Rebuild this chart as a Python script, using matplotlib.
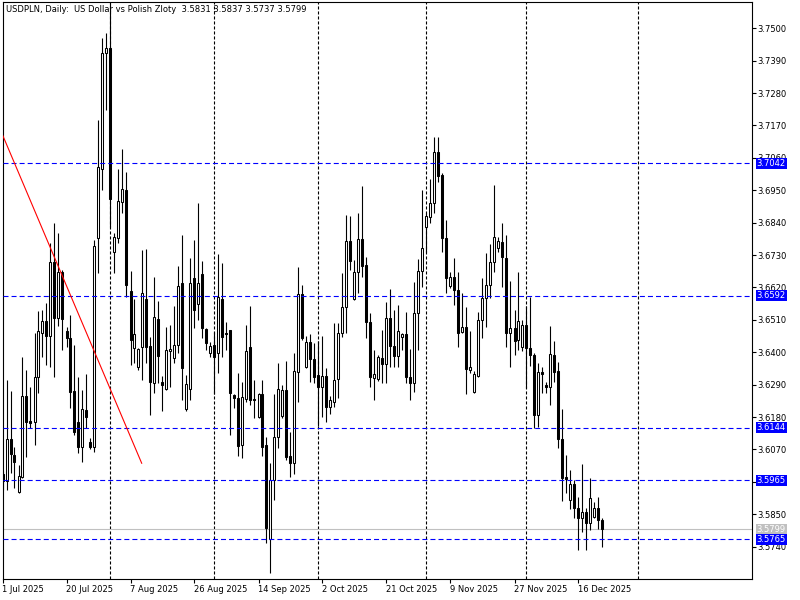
import matplotlib
matplotlib.use("Agg")
import matplotlib.pyplot as plt
import matplotlib.transforms as mtransforms
import numpy as np

plt.rcParams['lines.scale_dashes'] = False
plt.rcParams['font.family'] = ['DejaVu Sans']

# ---- data (daily bars, Sun-Fri sessions, 1 Jul 2025 .. 23 Dec 2025) ----
opens = [3.5986, 3.5963, 3.6105, 3.6051, 3.5925, 3.5976, 3.6252, 3.6167, 3.6163, 3.6316,
         3.6466, 3.6506, 3.6455, 3.6706, 3.6516, 3.6672, 3.6472, 3.6448, 3.6269, 3.6163,
         3.6078, 3.6204, 3.6095, 3.6078, 3.6788, 3.7022, 3.7416, 3.7433, 3.6740, 3.6788,
         3.6910, 3.6951, 3.6608, 3.6414, 3.6350, 3.6418, 3.6581, 3.6421, 3.6296, 3.6513,
         3.6299, 3.6275, 3.6404, 3.6380, 3.6425, 3.6635, 3.6207, 3.6275, 3.6652, 3.6564,
         3.6666, 3.6479, 3.6397, 3.6425, 3.6397, 3.6581, 3.6466, 3.6475, 3.6255, 3.6245,
         3.6085, 3.6241, 3.6418, 3.6241, 3.6180, 3.6258, 3.6085, 3.5766, 3.5966, 3.6112,
         3.6184, 3.6272, 3.6048, 3.6024, 3.6333, 3.6598, 3.6350, 3.6435, 3.6377, 3.6323,
         3.6282, 3.6319, 3.6214, 3.6231, 3.6309, 3.6465, 3.6554, 3.6778, 3.6581, 3.6672,
         3.6784, 3.6696, 3.6503, 3.6313, 3.6309, 3.6380, 3.6360, 3.6516, 3.6421, 3.6387,
         3.6452, 3.6462, 3.6316, 3.6296, 3.6533, 3.6676, 3.6825, 3.6859, 3.6907, 3.7080,
         3.7002, 3.6788, 3.6625, 3.6656, 3.6611, 3.6469, 3.6486, 3.6340, 3.6265, 3.6319,
         3.6509, 3.6584, 3.6628, 3.6706, 3.6754, 3.6774, 3.6720, 3.6465, 3.6482, 3.6441,
         3.6418, 3.6493, 3.6414, 3.6391, 3.6187, 3.6333, 3.6289, 3.6282, 3.6391, 3.6336,
         3.6105, 3.5976, 3.5898, 3.5953, 3.5871, 3.5837, 3.5857, 3.5820, 3.5840, 3.5871,
         3.5831]
highs = [3.5997, 3.6306, 3.6269, 3.6078, 3.6017, 3.6384, 3.6340, 3.6282, 3.6466, 3.6540,
         3.6543, 3.6567, 3.6771, 3.6839, 3.6805, 3.6679, 3.6486, 3.6526, 3.6425, 3.6316,
         3.6272, 3.6326, 3.6109, 3.6781, 3.7189, 3.7467, 3.7484, 3.7585, 3.6805, 3.7022,
         3.7090, 3.7012, 3.6676, 3.6581, 3.6414, 3.6747, 3.6751, 3.6452, 3.6656, 3.6574,
         3.6319, 3.6486, 3.6492, 3.6557, 3.6693, 3.6798, 3.6323, 3.6720, 3.6781, 3.6907,
         3.6710, 3.6482, 3.6435, 3.6469, 3.6734, 3.6703, 3.6503, 3.6475, 3.6258, 3.6330,
         3.6299, 3.6492, 3.6557, 3.6306, 3.6262, 3.6306, 3.6112, 3.6024, 3.6258, 3.6363,
         3.6289, 3.6370, 3.6129, 3.6397, 3.6690, 3.6628, 3.6455, 3.6462, 3.6431, 3.6438,
         3.6455, 3.6346, 3.6252, 3.6499, 3.6499, 3.6669, 3.6866, 3.6863, 3.6713, 3.6873,
         3.6964, 3.6723, 3.6533, 3.6407, 3.6391, 3.6475, 3.6571, 3.6615, 3.6543, 3.6560,
         3.6465, 3.6537, 3.6411, 3.6639, 3.6717, 3.6951, 3.6873, 3.6988, 3.7131, 3.7131,
         3.7009, 3.6849, 3.6672, 3.6720, 3.6672, 3.6601, 3.6554, 3.6472, 3.6336, 3.6537,
         3.6652, 3.6737, 3.6768, 3.6968, 3.6791, 3.6839, 3.6798, 3.6642, 3.6543, 3.6672,
         3.6509, 3.6557, 3.6588, 3.6397, 3.6363, 3.6350, 3.6299, 3.6489, 3.6438, 3.6367,
         3.6207, 3.6051, 3.6000, 3.5966, 3.5908, 3.6020, 3.5871, 3.5973, 3.5891, 3.5908,
         3.5837]
lows = [3.5932, 3.5932, 3.5990, 3.5939, 3.5922, 3.5973, 3.6044, 3.6143, 3.6085, 3.6262,
        3.6384, 3.6357, 3.6350, 3.6316, 3.6489, 3.6407, 3.6418, 3.6211, 3.6119, 3.6058,
        3.6027, 3.6143, 3.6071, 3.6061, 3.6669, 3.6951, 3.7222, 3.6825, 3.6669, 3.6771,
        3.6873, 3.6588, 3.6357, 3.6363, 3.6340, 3.6306, 3.6363, 3.6187, 3.6262, 3.6296,
        3.6200, 3.6272, 3.6282, 3.6363, 3.6397, 3.6238, 3.6200, 3.6238, 3.6482, 3.6509,
        3.6448, 3.6407, 3.6384, 3.6258, 3.6330, 3.6384, 3.6407, 3.6119, 3.6211, 3.6048,
        3.6041, 3.6231, 3.6221, 3.6177, 3.6177, 3.6048, 3.5752, 3.5650, 3.5898, 3.6075,
        3.6177, 3.6034, 3.5976, 3.5986, 3.6231, 3.6441, 3.6347, 3.6299, 3.6296, 3.6150,
        3.6180, 3.6163, 3.6190, 3.6214, 3.6245, 3.6452, 3.6465, 3.6679, 3.6577, 3.6601,
        3.6656, 3.6448, 3.6282, 3.6238, 3.6302, 3.6296, 3.6296, 3.6350, 3.6350, 3.6350,
        3.6407, 3.6296, 3.6238, 3.6265, 3.6407, 3.6622, 3.6740, 3.6839, 3.6873, 3.6978,
        3.6740, 3.6601, 3.6618, 3.6560, 3.6418, 3.6465, 3.6258, 3.6330, 3.6262, 3.6316,
        3.6448, 3.6486, 3.6584, 3.6672, 3.6740, 3.6622, 3.6418, 3.6350, 3.6391, 3.6407,
        3.6404, 3.6279, 3.6353, 3.6143, 3.6146, 3.6262, 3.6262, 3.6221, 3.6299, 3.6075,
        3.5895, 3.5922, 3.5868, 3.5837, 3.5728, 3.5789, 3.5728, 3.5796, 3.5837, 3.5799,
        3.5737]
closes = [3.5963, 3.6105, 3.6054, 3.6027, 3.5980, 3.6252, 3.6163, 3.6160, 3.6316, 3.6472,
          3.6506, 3.6455, 3.6706, 3.6516, 3.6672, 3.6513, 3.6448, 3.6265, 3.6129, 3.6078,
          3.6207, 3.6180, 3.6078, 3.6761, 3.7029, 3.7416, 3.7433, 3.6920, 3.6791, 3.6913,
          3.6954, 3.6628, 3.6441, 3.6462, 3.6411, 3.6601, 3.6418, 3.6299, 3.6520, 3.6387,
          3.6289, 3.6407, 3.6411, 3.6425, 3.6625, 3.6347, 3.6292, 3.6635, 3.6543, 3.6635,
          3.6482, 3.6431, 3.6421, 3.6384, 3.6588, 3.6452, 3.6463, 3.6262, 3.6245, 3.6082,
          3.6248, 3.6404, 3.6238, 3.6238, 3.6258, 3.6078, 3.5803, 3.5966, 3.6112, 3.6275,
          3.6272, 3.6044, 3.6024, 3.6336, 3.6598, 3.6448, 3.6435, 3.6377, 3.6316, 3.6282,
          3.6319, 3.6214, 3.6238, 3.6306, 3.6465, 3.6554, 3.6778, 3.6710, 3.6672, 3.6784,
          3.6693, 3.6503, 3.6316, 3.6326, 3.6384, 3.6360, 3.6516, 3.6421, 3.6387, 3.6472,
          3.6462, 3.6316, 3.6296, 3.6533, 3.6676, 3.6754, 3.6863, 3.6907, 3.7080, 3.6998,
          3.6788, 3.6652, 3.6656, 3.6611, 3.6465, 3.6486, 3.6343, 3.6350, 3.6326, 3.6509,
          3.6584, 3.6628, 3.6706, 3.6791, 3.6778, 3.6723, 3.6465, 3.6482, 3.6438, 3.6506,
          3.6493, 3.6414, 3.6391, 3.6187, 3.6333, 3.6326, 3.6282, 3.6394, 3.6333, 3.6105,
          3.5973, 3.5969, 3.5953, 3.5871, 3.5837, 3.5857, 3.5820, 3.5905, 3.5871, 3.5830,
          3.5799]

date_labels = ["1 Jul 2025", "20 Jul 2025", "7 Aug 2025", "26 Aug 2025", "14 Sep 2025",
               "2 Oct 2025", "21 Oct 2025", "9 Nov 2025", "27 Nov 2025", "16 Dec 2025"]
date_label_bars = [0, 16, 32, 48, 64, 80, 96, 112, 128, 144]
month_start_bars = [27, 53, 79, 106, 131, 159]

price_ticks = [3.5740, 3.5850, 3.5960, 3.6070, 3.6180, 3.6290, 3.6400, 3.6510, 3.6620,
               3.6730, 3.6840, 3.6950, 3.7060, 3.7170, 3.7280, 3.7390, 3.7500]
hidden_tick_labels = [3.5960]          # fully covered by the 3.5965 price box
levels = [3.7042, 3.6592, 3.6144, 3.5965, 3.5765]
bid = 3.5799
trend_bars = [0, 34.8]
trend_prices = [3.7138, 3.6023]

title = "USDPLN, Daily:  US Dollar vs Polish Zloty  3.5831 3.5837 3.5737 3.5799"

# ---- figure ----
W, H = 800, 600
fig = plt.figure(figsize=(8, 6), dpi=100)
left_px, right_px, top_px, bot_px = 2.5, 752, 2, 579
ax = fig.add_axes([left_px / W, (H - bot_px) / H, (right_px - left_px) / W, (bot_px - top_px) / H])
ax.set_xlim(0, (right_px - left_px) / 4.0)
ax.set_ylim(3.5630, 3.7589)

o = np.array(opens); c = np.array(closes); hi = np.array(highs); lo = np.array(lows)
idx = np.arange(len(o))
up = c >= o
ax.vlines(idx, lo, hi, color='black', lw=0.8, zorder=3)
bodies_bottom = np.minimum(o, c)
bodies_h = np.abs(c - o)
ax.bar(idx, bodies_h, bottom=bodies_bottom, width=0.5,
       color=np.where(up, 'white', 'black'), edgecolor='black', linewidth=0.75, zorder=4)

for g in month_start_bars:
    ax.axvline(g, color='black', lw=0.8, ls=(0, (2.2, 1.4)), zorder=1)

for lv in levels:
    ax.axhline(lv, color='#0000FF', lw=0.8, ls=(0, (3.6, 2.2)), zorder=6)
ax.axhline(bid, color='#C0C0C0', lw=0.8, zorder=2)

ax.plot(trend_bars, trend_prices, color='red', lw=0.8, zorder=7)

# axes styling
for sp in ax.spines.values():
    sp.set_linewidth(0.8)
    sp.set_color('black')

ax.yaxis.tick_right()
ax.set_yticks(price_ticks)
ax.set_yticklabels(["" if t in hidden_tick_labels else f"{t:.4f}" for t in price_ticks])
ax.tick_params(axis='y', direction='out', length=3, width=0.8, pad=1, labelsize=6)

ax.set_xticks(date_label_bars)
ax.set_xticklabels(date_labels, ha='left')
ax.tick_params(axis='x', direction='out', length=3, width=0.8, pad=1.5, labelsize=6)

trans = mtransforms.blended_transform_factory(ax.transAxes, ax.transData)
xoff = 1.0 + 4.5 / (right_px - left_px)
for lv in levels:
    ax.text(xoff, lv, f"{lv:.4f}", transform=trans, ha='left', va='center', fontsize=6,
            color='white', zorder=10, clip_on=False,
            bbox=dict(boxstyle='square,pad=0.12', fc='#0000FF', ec='none'))
ax.text(xoff, bid, f"{bid:.4f}", transform=trans, ha='left', va='center', fontsize=6,
        color='white', zorder=9, clip_on=False,
        bbox=dict(boxstyle='square,pad=0.12', fc='#C0C0C0', ec='none'))

ax.text((6.5 - left_px) / (right_px - left_px), 1 - (9.5 - top_px) / (bot_px - top_px), title,
        transform=ax.transAxes, ha='left', va='center', fontsize=6.0, color='black', zorder=11)

fig.savefig("out.png", dpi=100, facecolor='white')
